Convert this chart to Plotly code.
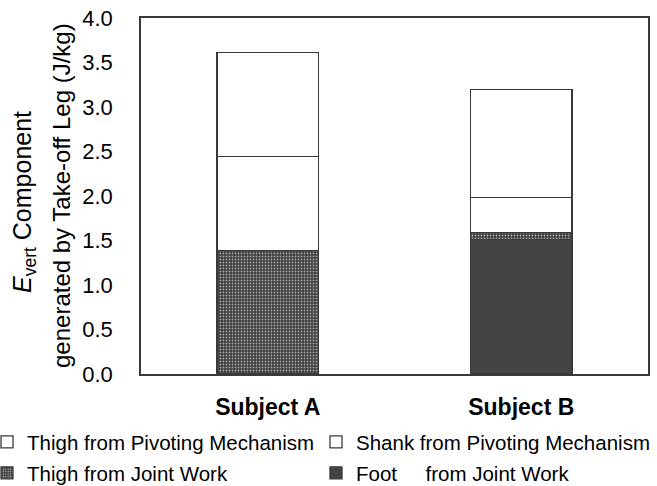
import plotly.graph_objects as go

subjects = ["Subject A", "Subject B"]
foot_joint = [0.0, 1.51]
thigh_joint = [1.39, 0.08]
shank_pivot = [1.05, 0.39]
thigh_pivot = [1.17, 1.22]

W, H = 657, 486
L, R, T, B = 141, 9, 18, 112
PW, PH = W - L - R, H - T - B

fig = go.Figure()
line = dict(color="#3a3a3a", width=1.3)

fig.add_trace(go.Bar(x=subjects, y=foot_joint, name="Foot     from Joint Work",
                     marker=dict(color="#444444", line=line), legend="legend4"))
fig.add_trace(go.Bar(x=subjects, y=thigh_joint, name="Thigh from Joint Work",
                     marker=dict(color="#4a4a4a", line=line,
                                 pattern=dict(shape=".", fgcolor="#a8a8a8", bgcolor="#3c3c3c",
                                              size=3, solidity=0.3, fillmode="replace")),
                     legend="legend3"))
fig.add_trace(go.Bar(x=subjects, y=shank_pivot, name="Shank from Pivoting Mechanism",
                     marker=dict(color="white", line=line), legend="legend2"))
fig.add_trace(go.Bar(x=subjects, y=thigh_pivot, name="Thigh from Pivoting Mechanism",
                     marker=dict(color="white", line=line), legend="legend"))

legfont = dict(size=20.5, family="Liberation Sans Narrow, Liberation Sans, sans-serif", color="black")


def px_x(pixel_x):
    return (pixel_x - L) / PW


def py(pixel_y):
    return -(pixel_y - (T + PH)) / PH


def leg(left_px, top_px):
    return dict(orientation="h", x=px_x(left_px), xanchor="left", y=py(top_px), yanchor="top",
                font=legfont, itemwidth=30, bgcolor="rgba(0,0,0,0)")


fig.update_layout(
    barmode="stack",
    bargap=0.6,
    width=W, height=H,
    margin=dict(l=L, r=R, t=T, b=B, autoexpand=False),
    plot_bgcolor="white", paper_bgcolor="white",
    font=dict(family="Liberation Sans, Arial, sans-serif", color="black"),
    showlegend=True,
    legend=leg(-13, 422),
    legend2=leg(316, 422),
    legend3=leg(-13, 453),
    legend4=leg(316, 453),
    annotations=[
        dict(text="<i>E</i><sub>vert</sub> Component", textangle=-90, xref="paper", yref="paper",
             x=0, xshift=24 - L, y=0.5, yshift=-6, xanchor="center", yanchor="middle",
             showarrow=False, font=dict(size=25)),
        dict(text="generated by Take-off Leg (J/kg)", textangle=-90, xref="paper", yref="paper",
             x=0, xshift=61 - L, y=0.5, yshift=0, xanchor="center", yanchor="middle",
             showarrow=False, font=dict(size=24)),
    ],
)
fig.update_yaxes(range=[0, 4.0], dtick=0.5, tickformat=".1f", showgrid=False,
                 showline=True, linecolor="#3a3a3a", linewidth=1.5, mirror=True,
                 ticks="", ticklabelstandoff=22, zeroline=False,
                 tickfont=dict(size=22))
fig.update_xaxes(showline=True, linecolor="#3a3a3a", linewidth=1.5, mirror=True,
                 ticks="", tickfont=dict(size=23, family="Liberation Sans, Arial, sans-serif", weight="bold"),
                 ticklabelstandoff=12)

post = ("document.body.style.margin='0';document.body.style.padding='0';"
        "var gd=document.getElementById('{plot_id}');"
        "Plotly.relayout(gd,{width:%d,height:%d});" % (W, H))
fig.write_html("out.html", post_script=post, config={"displayModeBar": False})
